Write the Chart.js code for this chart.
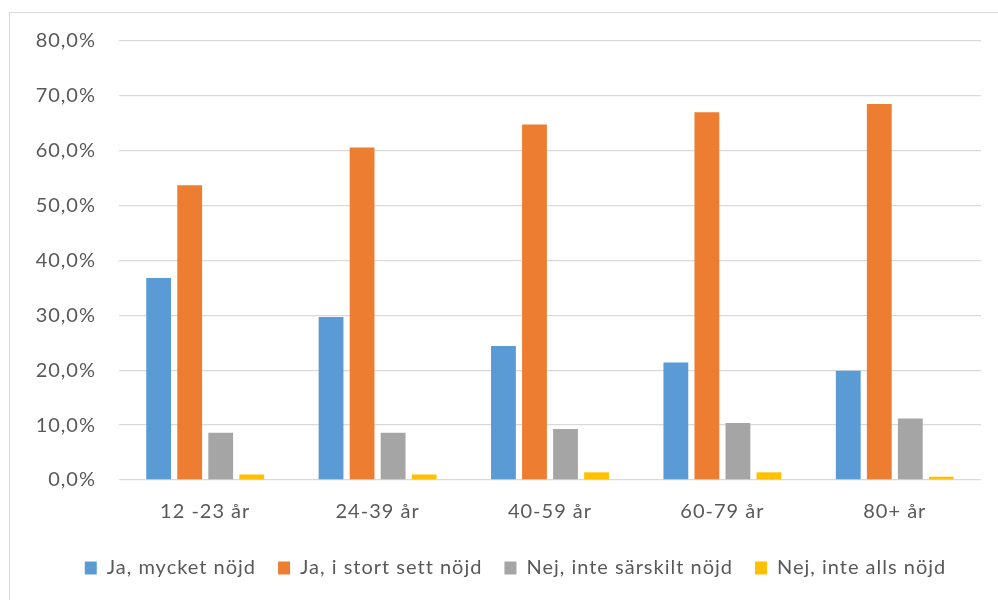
<!DOCTYPE html>
<html>
<head>
<meta charset="utf-8">
<script src="https://cdn.jsdelivr.net/npm/chart.js@4"></script>
<style>
    html, body { margin: 0; padding: 0; background: #fff; overflow: hidden; }
    #frame { position: absolute; left: 9px; top: 12px; width: 1000px; height: 600px; border: 1px solid #d9d9d9; box-sizing: border-box; }
    #wrap { position: absolute; left: 0; top: 0; width: 998px; height: 600px; }
</style>
</head>
<body>
<div id="frame"></div>
<div id="wrap"><canvas id="chart" width="998" height="600"></canvas></div>
<script>
// Age groups on the x axis
const categories = ['12 -23 år', '24-39 år', '40-59 år', '60-79 år', '80+ år'];

// Share per answer (fractions)
const mycketNojd = [0.368, 0.297, 0.244, 0.214, 0.199];
const storaSettNojd = [0.537, 0.606, 0.648, 0.670, 0.685];
const inteSarskiltNojd = [0.086, 0.086, 0.093, 0.104, 0.112];
const inteAllsNojd = [0.010, 0.010, 0.014, 0.014, 0.006];

const seriesNames = ['Ja, mycket nöjd', 'Ja, i stort sett nöjd', 'Nej, inte särskilt nöjd', 'Nej, inte alls nöjd'];
const seriesColors = ['#5B9BD5', '#ED7D31', '#A5A5A5', '#FFC000'];

const textColor = '#595959';
const fontFamily = 'Lato, "Open Sans", sans-serif';

const seriesValues = [mycketNojd, storaSettNojd, inteSarskiltNojd, inteAllsNojd];

// the original text is a bit spread out, canvas letterSpacing gets close to that
const spacingPlugin = {
    id: 'spacing',
    beforeUpdate: chart => { chart.ctx.letterSpacing = '1px'; },
    beforeDraw: chart => { chart.ctx.letterSpacing = '1px'; },
    // legend sits a little right of centre in the original
    afterLayout: chart => {
        chart.legend.left += 20;
        chart.legend.right += 20;
    }
};

const ctx = document.getElementById('chart').getContext('2d');
new Chart(ctx, {
    type: 'bar',
    data: {
        labels: categories,
        datasets: seriesValues.map((values, i) => ({
            label: seriesNames[i],
            data: values,
            backgroundColor: seriesColors[i],
            borderWidth: 0,
            categoryPercentage: 0.72,
            barPercentage: 0.8
        }))
    },
    options: {
        responsive: false,
        animation: false,
        layout: {
            padding: { left: 10, right: 17, top: 41, bottom: 12 }
        },
        scales: {
            y: {
                min: 0,
                max: 0.8,
                ticks: {
                    stepSize: 0.1,
                    color: textColor,
                    font: { family: fontFamily, size: 20 },
                    padding: 23,
                    callback: v => (v * 100).toFixed(1).replace('.', ',') + '%'
                },
                grid: { color: '#d9d9d9', lineWidth: 1.3, drawTicks: false },
                border: { display: false },
                afterFit: s => { s.width = 109; }
            },
            x: {
                ticks: {
                    color: textColor,
                    font: { family: fontFamily, size: 20 },
                    padding: 20
                },
                grid: { display: false, drawTicks: false },
                border: { display: false },
                afterFit: s => { s.height = 56; }
            }
        },
        plugins: {
            legend: {
                position: 'bottom',
                labels: {
                    color: textColor,
                    font: { family: fontFamily, size: 20 },
                    boxWidth: 12,
                    boxHeight: 13,
                    padding: 22
                }
            },
            tooltip: { enabled: false }
        }
    },
    plugins: [spacingPlugin]
});
</script>
</body>
</html>
